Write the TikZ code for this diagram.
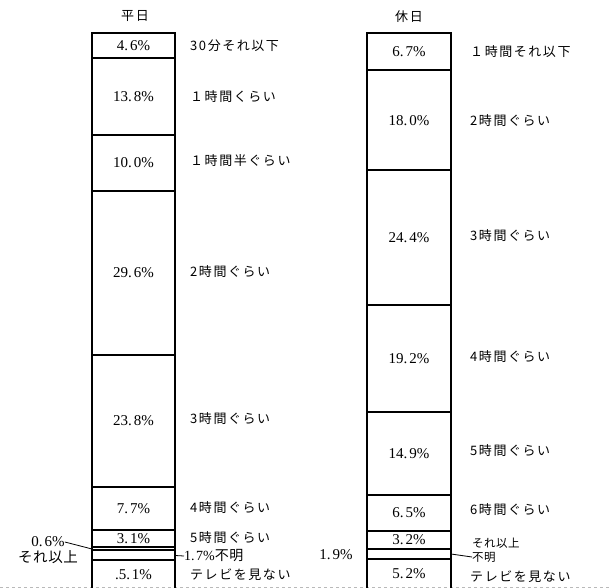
\documentclass[tikz,border=0pt]{standalone}
\usepackage{fontspec}
\setmainfont{Liberation Serif}
\newfontfamily\jp[LetterSpace=12]{Noto Sans CJK JP}
\newfontfamily\jpwide[LetterSpace=4]{Noto Sans CJK JP}
\begin{document}
\begin{tikzpicture}[x=1pt,y=-1pt,
  pct/.style={font=\fontsize{15}{17}\selectfont, inner sep=0pt},
  lab/.style={anchor=west, font=\fontsize{13}{15}\selectfont\jp, inner sep=0pt},
  smalllab/.style={anchor=west, font=\fontsize{11.5}{13}\selectfont\jpwide, inner sep=0pt},
  ttl/.style={font=\fontsize{13}{15}\selectfont\jp, inner sep=0pt},
  frame/.style={line width=2.3pt},
  sepline/.style={line width=2pt},
  conn/.style={line width=0.8pt}]
\useasboundingbox (0,0) rectangle (611,588);
% bottom edge (scan line)
\draw[gray!55, dashed, line width=0.8pt] (0,587) -- (611,587);
% titles
\node[ttl] (t1) at (135,16) {平日};
\node[ttl] (t2) at (409,17) {休日};
% ---------- left bar ----------
\draw[frame] (92,592) -- (92,33) -- (175,33) -- (175,592);
\foreach \yy in {58.5,135.1,190.6,354.9,487.0,529.7,546.9,550.3,559.7}
  \draw[sepline] (92,\yy) -- (175,\yy);
\node[pct] (a1) at (133.5,45.8) {4.\kern2pt6\%};
\node[pct] (a2) at (133.5,96.8) {13.\kern2pt8\%};
\node[pct] (a3) at (133.5,162.9) {10.\kern2pt0\%};
\node[pct] (a4) at (133.5,272.8) {29.\kern2pt6\%};
\node[pct] (a5) at (133.5,421) {23.\kern2pt8\%};
\node[pct] (a6) at (133.5,508.4) {7.\kern2pt7\%};
\node[pct] (a7) at (133.5,538.6) {3.\kern2pt1\%};
\node[pct] (a10) at (133.5,574.5) {.5.\kern2pt1\%};
% left labels
\node[lab] (la1) at (190,46) {30分それ以下};
\node[lab] (la2) at (190,97) {１時間くらい};
\node[lab] (la3) at (190,161) {１時間半ぐらい};
\node[lab] (la4) at (190,272) {2時間ぐらい};
\node[lab] (la5) at (190,419) {3時間ぐらい};
\node[lab] (la6) at (190,508) {4時間ぐらい};
\node[lab] (la7) at (190,538) {5時間ぐらい};
\node[lab] (la10) at (190,575) {テレビを見ない};
\node[anchor=west, inner sep=0pt, font=\fontsize{14}{16}\selectfont] (la9) at (184,556) {1.\kern1.5pt7\%{\jpwide 不明}};
\coordinate (b17) at (175,555.5);
\draw[conn] (b17) -- (la9.west);
\node[pct] (p06) at (48,542) {0.\kern2pt6\%};
\node[ttl, font=\fontsize{14.5}{16}\selectfont\jpwide] (s06) at (48,557) {それ以上};
\coordinate (b06) at (92,549);
\draw[conn] (p06.east) -- (b06);
% ---------- right bar ----------
\draw[frame] (367,592) -- (367,33) -- (451,33) -- (451,592);
\foreach \yy in {70.2,170.1,305.5,412.1,494.8,530.8,548.6,559.1}
  \draw[sepline] (367,\yy) -- (451,\yy);
\node[pct] (c1) at (409,51.6) {6.\kern2pt7\%};
\node[pct] (c2) at (409,121) {18.\kern2pt0\%};
\node[pct] (c3) at (409,237.8) {24.\kern2pt4\%};
\node[pct] (c4) at (409,358.8) {19.\kern2pt2\%};
\node[pct] (c5) at (409,453.4) {14.\kern2pt9\%};
\node[pct] (c6) at (409,512.8) {6.\kern2pt5\%};
\node[pct] (c7) at (409,539.7) {3.\kern2pt2\%};
\node[pct] (c9) at (409,574) {5.\kern2pt2\%};
\node[pct] (c8) at (336,555) {1.\kern2pt9\%};
% right labels
\node[lab] (ra1) at (470,52) {１時間それ以下};
\node[lab] (ra2) at (470,121) {2時間ぐらい};
\node[lab] (ra3) at (470,236) {3時間ぐらい};
\node[lab] (ra4) at (470,357) {4時間ぐらい};
\node[lab] (ra5) at (470,451) {5時間ぐらい};
\node[lab] (ra6) at (470,510) {6時間ぐらい};
\node[smalllab] (ra7) at (472,543) {それ以上};
\node[smalllab] (ra8) at (472,557) {不明};
\node[lab] (ra9) at (470,577) {テレビを見ない};
\coordinate (b19) at (451,554);
\draw[conn] (b19) -- (ra8.west);
\end{tikzpicture}
\end{document}
